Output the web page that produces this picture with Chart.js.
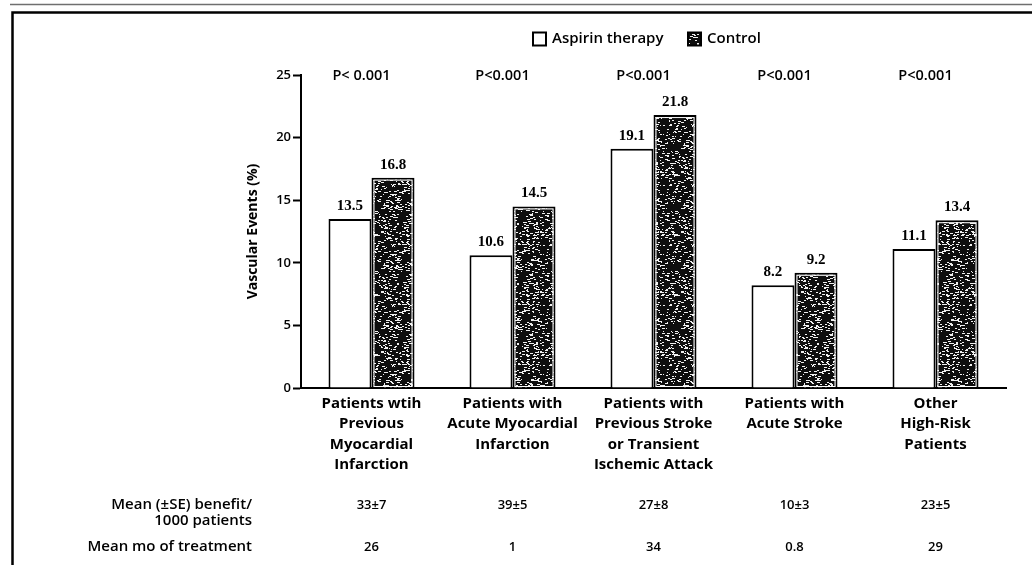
<!DOCTYPE html>
<html>
<head>
<meta charset="utf-8">
<script src="https://cdn.jsdelivr.net/npm/chart.js@4.4.1/dist/chart.umd.min.js"></script>
<style>
  html, body { margin: 0; padding: 0; background: #fff; }
  canvas { display: block; }
</style>
</head>
<body>
<canvas id="chart" width="1032" height="565"></canvas>
<script>
// Subgroup categories (multi-line axis labels)
const categories = [
  ["Patients wtih", "Previous", "Myocardial", "Infarction"],
  ["Patients with", "Acute Myocardial", "Infarction"],
  ["Patients with", "Previous Stroke", "or Transient", "Ischemic Attack"],
  ["Patients with", "Acute Stroke"],
  ["Other", "High-Risk", "Patients"]
];
// Vascular events (%)
const aspirinValues = [13.5, 10.6, 19.1, 8.2, 11.1];
const controlValues = [16.8, 14.5, 21.8, 9.2, 13.4];
const pValues = ["P< 0.001", "P<0.001", "P<0.001", "P<0.001", "P<0.001"];
// Table rows under the chart
const benefitPer1000 = ["33±7", "39±5", "27±8", "10±3", "23±5"];
const monthsOfTreatment = ["26", "1", "34", "0.8", "29"];
const benefitRowLabel = ["Mean (±SE) benefit/", "1000 patients"];
const monthsRowLabel = "Mean mo of treatment";
const yMin = 0, yMax = 25, yStep = 5;

const SANS = "'Open Sans', 'DejaVu Sans', sans-serif";
const SERIF = "'Liberation Serif', 'DejaVu Serif', serif";

// Dark stippled fill for the control bars (deterministic speckle texture)
function makeStipple() {
  const s = 60;
  const c = document.createElement('canvas');
  c.width = s; c.height = s;
  const g = c.getContext('2d');
  g.fillStyle = '#0e0e0e';
  g.fillRect(0, 0, s, s);
  g.fillStyle = '#f0f0f0';
  let h = 2166136261 >>> 0;
  for (let i = 0; i < s * s; i++) {
    h ^= (i * 2654435761) >>> 0;
    h = Math.imul(h, 16777619) >>> 0;
    h ^= h >>> 13;
    if ((h & 255) < 26) {
      const w = 1 + ((h >>> 9) & 1) + ((h >>> 10) & 1);
      g.fillRect(i % s, Math.floor(i / s), w, 1);
    }
  }
  return g.createPattern(c, 'repeat');
}
const stipple = makeStipple();

const decorations = {
  id: 'decorations',
  beforeDraw(chart) {
    const ctx = chart.ctx;
    ctx.save();
    // page frame
    ctx.strokeStyle = '#6f6f6f';
    ctx.lineWidth = 1.5;
    ctx.beginPath(); ctx.moveTo(10, 4.5); ctx.lineTo(1032, 4.5); ctx.stroke();
    ctx.strokeStyle = '#000';
    ctx.lineWidth = 2.5;
    ctx.beginPath();
    ctx.moveTo(12.5, 565); ctx.lineTo(12.5, 12.5); ctx.lineTo(1032, 12.5);
    ctx.stroke();
    ctx.restore();
  },
  afterDatasetsDraw(chart) {
    const ctx = chart.ctx;
    ctx.save();
    // inner white rule inside the control bars
    const metaC = chart.getDatasetMeta(1);
    ctx.strokeStyle = '#fff';
    ctx.lineWidth = 1;
    metaC.data.forEach(bar => {
      const l = bar.x - bar.width / 2 + 2.5, r = bar.x + bar.width / 2 - 2.5;
      const t = bar.y + 2.5, b = bar.base - 1;
      ctx.strokeRect(l, t, r - l, b - t);
    });
    // value labels above bars
    ctx.fillStyle = '#000';
    ctx.font = 'bold 15px ' + SERIF;
    ctx.textAlign = 'center';
    ctx.textBaseline = 'alphabetic';
    chart.data.datasets.forEach((ds, di) => {
      chart.getDatasetMeta(di).data.forEach((bar, i) => {
        ctx.fillText(ds.data[i].toFixed(1), bar.x, bar.y - 9);
      });
    });
    ctx.restore();
  },
  afterDraw(chart) {
    const ctx = chart.ctx;
    const x = chart.scales.x;
    const area = chart.chartArea;
    ctx.save();
    ctx.fillStyle = '#000';
    ctx.textAlign = 'center';
    ctx.textBaseline = 'middle';
    // P values
    ctx.font = '600 14.5px ' + SANS;
    pValues.forEach((p, i) => ctx.fillText(p, x.getPixelForValue(i) - 10, area.top + 1));
    // table rows
    ctx.font = '600 13px ' + SANS;
    benefitPer1000.forEach((v, i) => ctx.fillText(v, x.getPixelForValue(i), 505));
    monthsOfTreatment.forEach((v, i) => ctx.fillText(v, x.getPixelForValue(i), 547));
    ctx.textAlign = 'right';
    ctx.font = '600 15px ' + SANS;
    ctx.fillText(benefitRowLabel[0], 252, 505);
    ctx.fillText(benefitRowLabel[1], 252, 521);
    ctx.fillText(monthsRowLabel, 252, 547);

    // legend
    ctx.textAlign = 'left';
    ctx.font = '600 15px ' + SANS;
    const ly = 39;
    const items = [
      { x: 533, ds: chart.data.datasets[0] },
      { x: 688, ds: chart.data.datasets[1] }
    ];
    items.forEach(it => {
      ctx.fillStyle = it.ds.backgroundColor;
      ctx.fillRect(it.x, ly - 6.5, 13, 13);
      ctx.strokeStyle = '#000';
      ctx.lineWidth = 2;
      ctx.strokeRect(it.x, ly - 6.5, 13, 13);
      ctx.fillStyle = '#000';
      ctx.fillText(it.ds.label, it.x + 19, ly);
    });
    ctx.restore();
  }
};

new Chart(document.getElementById('chart').getContext('2d'), {
  type: 'bar',
  data: {
    labels: categories,
    datasets: [
      { label: 'Aspirin therapy', data: aspirinValues, backgroundColor: '#ffffff', borderColor: '#000', borderWidth: 2 },
      { label: 'Control', data: controlValues, backgroundColor: stipple, borderColor: '#000', borderWidth: 2 }
    ]
  },
  options: {
    responsive: false,
    animation: false,
    devicePixelRatio: 1,
    layout: { padding: { left: 245, right: 26, top: 75, bottom: 77 } },
    datasets: { bar: { categoryPercentage: 0.61, barPercentage: 1 } },
    plugins: { legend: { display: false }, tooltip: { enabled: false } },
    scales: {
      x: {
        grid: { display: false, drawTicks: false },
        border: { color: '#000', width: 2 },
        ticks: {
          color: '#000',
          autoSkip: false,
          maxRotation: 0,
          padding: 5,
          font: { family: SANS, size: 15, weight: 'bold', lineHeight: '20.5px' }
        },
        afterFit(scale) { scale.height = 100; }
      },
      y: {
        min: yMin,
        max: yMax,
        ticks: { stepSize: yStep, color: '#000', padding: 2, font: { family: SANS, size: 13, weight: '600' } },
        grid: { drawOnChartArea: false, tickLength: 8, tickWidth: 2, color: '#000' },
        border: { color: '#000', width: 2 },
        title: {
          display: true,
          text: 'Vascular Events (%)',
          color: '#000',
          font: { family: SANS, size: 14, weight: 'bold' },
          padding: { top: 0, bottom: 2 }
        },
        afterFit(scale) { scale.width = 56; }
      }
    }
  },
  plugins: [decorations]
});
</script>
</body>
</html>
